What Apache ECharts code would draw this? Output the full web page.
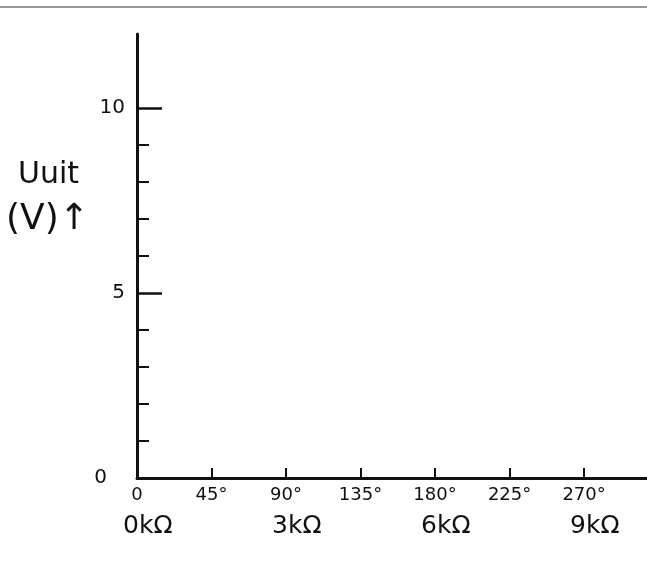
<!DOCTYPE html>
<html><head><meta charset="utf-8">
<script src="https://cdn.jsdelivr.net/npm/echarts@6/dist/echarts.min.js"></script>
<style>html,body{margin:0;padding:0;background:#fff}#c{width:647px;height:565px}</style>
</head><body><div id="c"></div>
<script>
const xMax = 308;
const yMax = 12;
const angleTicks = [0, 45, 90, 135, 180, 225, 270];
const angleLabels = ['0', '45°', '90°', '135°', '180°', '225°', '270°'];
const resTicks = [0, 90, 180, 270];
const resLabels = ['0kΩ', '3kΩ', '6kΩ', '9kΩ'];
const yMinorTicks = [1, 2, 3, 4, 6, 7, 8, 9];
const yMajorTicks = [5, 10];
const yLabelVals = [0, 5, 10];
const yLabels = ['0', '5', '10'];
const yName = ['Uuit', '(V)↑'];

const chart = echarts.init(document.getElementById('c'));
const font = 'DejaVu Sans';
chart.setOption({
  animation: false,
  backgroundColor: '#fff',
  grid: { left: 137, right: 0, top: 34, bottom: 87 },
  xAxis: [{
    type: 'value', min: 0, max: xMax, position: 'bottom',
    axisLine: { show: true, onZero: false, lineStyle: { color: '#111', width: 3 } },
    axisTick: { show: true, inside: true, length: 10, customValues: angleTicks.slice(1), lineStyle: { color: '#111', width: 2 } },
    axisLabel: { customValues: angleTicks, margin: 8, color: '#111', fontSize: 18, fontFamily: font,
      formatter: v => angleLabels[angleTicks.indexOf(v)] },
    splitLine: { show: false }
  }, {
    type: 'value', min: 0, max: xMax, position: 'bottom', offset: 30,
    axisLine: { show: false }, axisTick: { show: false },
    axisLabel: { customValues: resTicks, margin: 6, color: '#111', fontSize: 25, fontFamily: font, align: 'left',
      padding: [0, 0, 0, -14], formatter: v => resLabels[resTicks.indexOf(v)] },
    splitLine: { show: false }
  }],
  yAxis: [{
    type: 'value', min: 0, max: yMax, position: 'left',
    axisLine: { show: true, onZero: false, lineStyle: { color: '#111', width: 3 } },
    axisTick: { show: true, inside: true, length: 12, customValues: yMinorTicks, lineStyle: { color: '#111', width: 2 } },
    axisLabel: { customValues: yLabelVals, margin: 12, color: '#111', fontSize: 20, fontFamily: font,
      formatter: v => v === 0 ? '{z|0}' : yLabels[yLabelVals.indexOf(v)],
      rich: { z: { fontSize: 20, fontFamily: font, color: '#111', padding: [0, 18, 0, 0] } } },
    splitLine: { show: false }
  }, {
    type: 'value', min: 0, max: yMax, position: 'left',
    axisLine: { show: false },
    axisTick: { show: true, inside: true, length: 25, customValues: yMajorTicks, lineStyle: { color: '#111', width: 2.5 } },
    axisLabel: { show: false },
    splitLine: { show: false }
  }],
  graphic: [
    { type: 'line', shape: { x1: 0, y1: 7, x2: 647, y2: 7 }, style: { stroke: '#999', lineWidth: 2 } },
    { type: 'text', left: 18, top: 160, style: { text: yName[0], fontSize: 30, fontFamily: font, fill: '#111' } },
    { type: 'text', left: 6, top: 202, style: { text: yName[1], fontSize: 36, fontFamily: font, fill: '#111' } }
  ],
  series: [{ type: 'line', data: [], xAxisIndex: 0, yAxisIndex: 0 }]
});
</script></body></html>
